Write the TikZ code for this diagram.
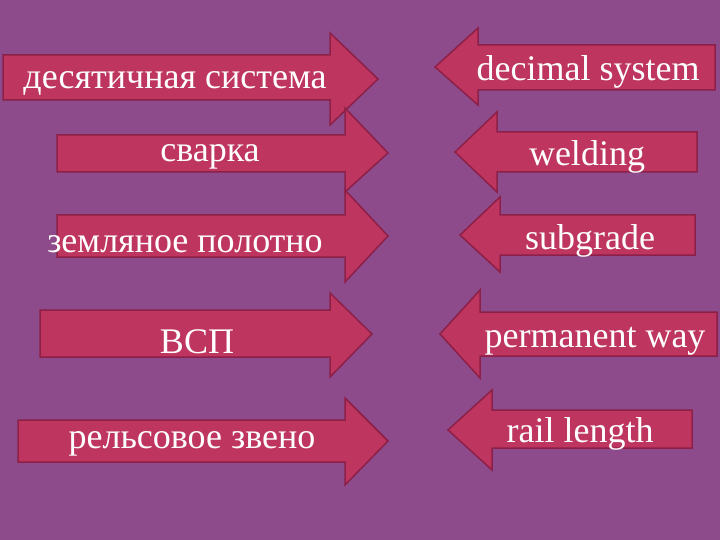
\documentclass[tikz,border=0pt]{standalone}
\usepackage{fontspec}
\setmainfont{Liberation Serif}
\definecolor{bg}{HTML}{8E4B8B}
\definecolor{af}{HTML}{BE3560}
\definecolor{ab}{HTML}{8C2048}
\tikzset{arr/.style={fill=af,draw=ab,line width=1.5pt,line join=miter},
 lbl/.style={text=white,font=\fontsize{36}{42}\selectfont,anchor=center,inner sep=0pt,yshift=-4pt}}
\newcommand{\rarr}[8]{\draw[arr] (#1,#2)--(#3,#2)--(#3,#6)--(#4,#8)--(#3,#7)--(#3,#5)--(#1,#5)--cycle;}
\begin{document}
\begin{tikzpicture}[x=1pt,y=-1pt]
\fill[bg] (0,0) rectangle (720,540);
\useasboundingbox (0,0) rectangle (720,540);
\rarr{3}{55}{330}{378}{100}{33}{125}{79}
\rarr{57}{135}{345}{388}{172}{108}{192}{153}
\rarr{57}{215}{345}{388}{257}{190}{282}{236}
\rarr{40}{310}{330}{372}{357}{293}{377}{334}
\rarr{18}{420}{345}{388}{462}{398}{485}{441}
\rarr{715}{45}{478}{435}{90}{28}{105}{67}
\rarr{697}{132}{497}{455}{172}{112}{192}{152}
\rarr{695}{215}{500}{460}{255}{197}{272}{235}
\rarr{717}{312}{480}{440}{356}{290}{378}{334}
\rarr{692}{410}{492}{448}{448}{390}{470}{430}
\node[lbl] (t1) at (175,80) {десятичная система};
\node[lbl] (t2) at (210,153) {сварка};
\node[lbl] (t3) at (185,240) {земляное полотно};
\node[lbl] (t4) at (197,338) {ВСП};
\node[lbl] (t5) at (192,440) {рельсовое звено};
\node[lbl] (e1) at (588,68) {decimal system};
\node[lbl] (e2) at (587,153) {welding};
\node[lbl] (e3) at (590,237) {subgrade};
\node[lbl] (e4) at (595,337) {permanent way};
\node[lbl] (e5) at (580,430) {rail length};
\end{tikzpicture}
\end{document}
